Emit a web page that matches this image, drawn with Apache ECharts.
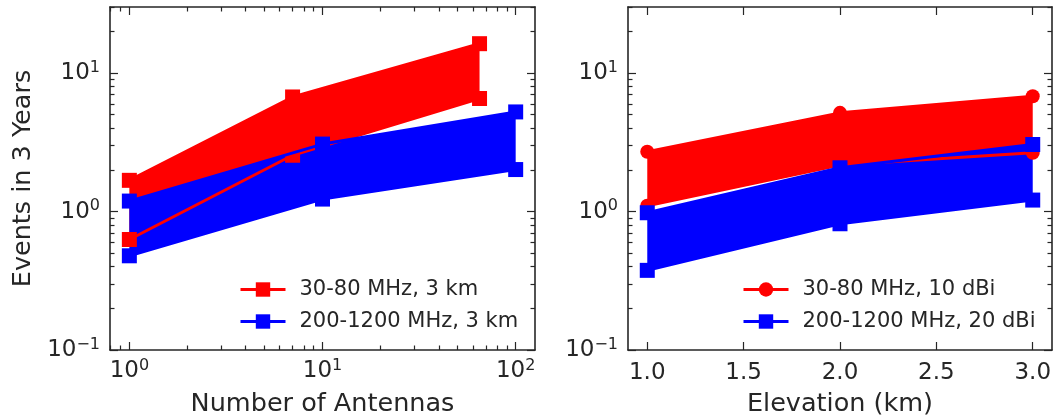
<!DOCTYPE html>
<html>
<head>
<meta charset="utf-8">
<title>Events in 3 Years</title>
<script src="https://cdn.jsdelivr.net/npm/echarts@6/dist/echarts.min.js"></script>
<style>
body{margin:0;padding:0;background:#fff;}
#chart{width:1062px;height:416px;}
</style>
</head>
<body>
<div id="chart"></div>
<script>
// left panel: number of antennas, 3 km
var antennasLow = [1, 7, 65];
var lowUpper = [1.68, 6.72, 16.3];
var lowLower = [0.628, 2.55, 6.55];
var antennasHigh = [1, 10, 100];
var highUpper = [1.19, 3.07, 5.24];
var highLower = [0.479, 1.23, 2.01];

// right panel: elevation (km)
var elevation = [1.0, 2.0, 3.0];
var elevLowUpper = [2.70, 5.16, 6.8];
var elevLowLower = [1.10, 2.17, 2.66];
var elevHighUpper = [0.98, 2.07, 3.05];
var elevHighLower = [0.376, 0.816, 1.21];

// ticks
var yMajor = [0.1, 1, 10];
var yMinor = [0.2, 0.3, 0.4, 0.5, 0.6, 0.7, 0.8, 0.9, 2, 3, 4, 5, 6, 7, 8, 9, 20, 30];
var antMajor = [1, 10, 100];
var antMinor = [0.8, 0.9, 2, 3, 4, 5, 6, 7, 8, 9, 20, 30, 40, 50, 60, 70, 80, 90];
var elevMajor = [1.0, 1.5, 2.0, 2.5, 3.0];

var ink = '#262626';
var font = 'DejaVu Sans';
var yMin = 0.1, yMax = 30;
var antMin = 0.794, antMax = 125.9;
var elevMin = 0.9, elevMax = 3.1;

function pairs(xs, ys) {
  return xs.map(function (x, i) { return [x, ys[i]]; });
}

function powLabel(v) {
  var e = Math.round(Math.log10(v));
  return '{b|10}{s|' + (e < 0 ? '\u2212' + (-e) : e) + '}';
}
var powRich = {
  b: { fontSize: 23, fontFamily: font, color: ink },
  s: { fontSize: 16, fontFamily: font, color: ink, padding: [0, 0, 11, 0] }
};

function frameAxis(type, position, grid, min, max, ticks, len, line, extra) {
  var a = {
    type: type, gridIndex: grid, position: position, min: min, max: max,
    axisLine: { show: line, onZero: false, lineStyle: { color: ink, width: 1.6 } },
    axisTick: { show: true, inside: true, length: len, customValues: ticks,
      lineStyle: { color: ink, width: 1.2 } },
    axisLabel: { show: false },
    splitLine: { show: false },
    minorTick: { show: false }
  };
  if (type === 'log') a.logBase = 10;
  for (var k in extra) a[k] = extra[k];
  return a;
}

function band(name, xs, up, lo, color, xi, yi) {
  return {
    type: 'custom', name: name, xAxisIndex: xi, yAxisIndex: yi, z: 1, silent: true,
    data: [[xs[0], up[0]]],
    renderItem: function (params, api) {
      var pts = [];
      for (var i = 0; i < xs.length; i++) pts.push(api.coord([xs[i], up[i]]));
      for (var j = xs.length - 1; j >= 0; j--) pts.push(api.coord([xs[j], lo[j]]));
      return { type: 'polygon', shape: { points: pts }, style: { fill: color } };
    }
  };
}

function line(name, xs, ys, color, symbol, size, xi, yi, z) {
  return {
    type: 'line', name: name, xAxisIndex: xi, yAxisIndex: yi, z: z, silent: true,
    data: pairs(xs, ys), symbol: symbol, symbolSize: size, showSymbol: true,
    lineStyle: { color: color, width: 3 },
    itemStyle: { color: color, borderWidth: 0 },
    emphasis: { disabled: true }
  };
}

var labelA = '30-80 MHz, 3 km', labelB = '200-1200 MHz, 3 km';
var labelC = '30-80 MHz, 10 dBi', labelD = '200-1200 MHz, 20 dBi';

var legendText = { fontFamily: font, fontSize: 21, color: ink, padding: [0, 0, 0, 9] };
var nameText = { fontFamily: font, fontSize: 25.5, color: ink };

function legendBox(names, left) {
  return {
    data: names, left: left, top: 274, orient: 'vertical',
    itemWidth: 45, itemHeight: 18, itemGap: 11, textStyle: legendText,
    lineStyle: { width: 3 }
  };
}

var chart = echarts.init(document.getElementById('chart'));
chart.setOption({
  animation: false,
  backgroundColor: '#fff',
  grid: [
    { left: 110, top: 7, width: 425, height: 343, outerBoundsMode: 'none', containLabel: false },
    { left: 628, top: 7, width: 424, height: 343, outerBoundsMode: 'none', containLabel: false }
  ],
  legend: [legendBox([labelA, labelB], 234), legendBox([labelC, labelD], 737)],
  xAxis: [
    frameAxis('log', 'bottom', 0, antMin, antMax, antMajor, 8, true, {
      axisLabel: { show: true, customValues: antMajor, margin: 8, formatter: powLabel, rich: powRich },
      name: 'Number of Antennas', nameLocation: 'middle', nameGap: 41, nameTextStyle: nameText
    }),
    frameAxis('log', 'bottom', 0, antMin, antMax, antMinor, 4.5, false),
    frameAxis('log', 'top', 0, antMin, antMax, antMajor, 8, true),
    frameAxis('log', 'top', 0, antMin, antMax, antMinor, 4.5, false),
    frameAxis('value', 'bottom', 1, elevMin, elevMax, elevMajor, 8, true, {
      axisLabel: { show: true, customValues: elevMajor, margin: 12, fontSize: 23, fontFamily: font, color: ink,
        formatter: function (v) { return v.toFixed(1); } },
      name: 'Elevation (km)', nameLocation: 'middle', nameGap: 41, nameTextStyle: nameText
    }),
    frameAxis('value', 'top', 1, elevMin, elevMax, elevMajor, 8, true)
  ],
  yAxis: [
    frameAxis('log', 'left', 0, yMin, yMax, yMajor, 8, true, {
      axisLabel: { show: true, customValues: yMajor, margin: 10, formatter: powLabel, rich: powRich },
      name: 'Events in 3 Years', nameLocation: 'middle', nameGap: 74, nameTextStyle: nameText
    }),
    frameAxis('log', 'left', 0, yMin, yMax, yMinor, 4.5, false),
    frameAxis('log', 'right', 0, yMin, yMax, yMajor, 8, true),
    frameAxis('log', 'right', 0, yMin, yMax, yMinor, 4.5, false),
    frameAxis('log', 'left', 1, yMin, yMax, yMajor, 8, true, {
      axisLabel: { show: true, customValues: yMajor, margin: 10, formatter: powLabel, rich: powRich }
    }),
    frameAxis('log', 'left', 1, yMin, yMax, yMinor, 4.5, false),
    frameAxis('log', 'right', 1, yMin, yMax, yMajor, 8, true),
    frameAxis('log', 'right', 1, yMin, yMax, yMinor, 4.5, false)
  ],
  series: [
    band('fillA', antennasLow, lowUpper, lowLower, '#ff0000', 0, 0),
    band('fillB', antennasHigh, highUpper, highLower, '#0000ff', 0, 0),
    line(labelA, antennasLow, lowUpper, '#ff0000', 'rect', 15, 0, 0, 2),
    line(labelA, antennasLow, lowLower, '#ff0000', 'rect', 15, 0, 0, 2),
    line(labelB, antennasHigh, highUpper, '#0000ff', 'rect', 15, 0, 0, 3),
    line(labelB, antennasHigh, highLower, '#0000ff', 'rect', 15, 0, 0, 3),

    band('fillC', elevation, elevLowUpper, elevLowLower, '#ff0000', 4, 4),
    band('fillD', elevation, elevHighUpper, elevHighLower, '#0000ff', 4, 4),
    line(labelC, elevation, elevLowUpper, '#ff0000', 'circle', 14, 4, 4, 2),
    line(labelC, elevation, elevLowLower, '#ff0000', 'circle', 14, 4, 4, 2),
    line(labelD, elevation, elevHighUpper, '#0000ff', 'rect', 15, 4, 4, 3),
    line(labelD, elevation, elevHighLower, '#0000ff', 'rect', 15, 4, 4, 3)
  ]
});
</script>
</body>
</html>
